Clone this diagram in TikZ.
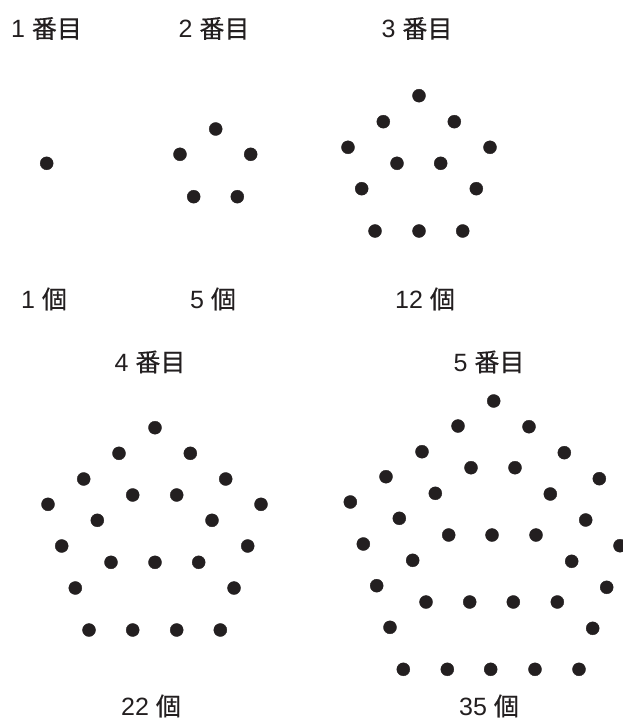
\documentclass[tikz,border=0pt]{standalone}
\usepackage{fontspec}
\setmainfont{Liberation Sans}
\newfontfamily\jpfont[FakeBold=0.4]{Noto Sans CJK JP}
\definecolor{ink}{RGB}{35,31,32}
\newcommand{\jp}[1]{{\jpfont #1}}

\begin{document}
\begin{tikzpicture}[x=1pt, y=-1pt]
\tikzset{
  dot/.style={fill=ink, draw=ink},
  lbl/.style={text=ink, inner sep=0pt, font=\fontsize{25}{25}\selectfont}
}
\useasboundingbox (0,0) rectangle (623,722);

% Titles
\node[lbl] (t1) at (46.5,28.5) {1 \jp{番目}};
\node[lbl] (t2) at (214,28.5) {2 \jp{番目}};
\node[lbl] (t3) at (417,28.5) {3 \jp{番目}};
\node[lbl] (t4) at (150,362) {4 \jp{番目}};
\node[lbl] (t5) at (489,362) {5 \jp{番目}};

% Counts
\node[lbl] (c1) at (44,299) {1 \jp{個}};
\node[lbl] (c2) at (213,299) {5 \jp{個}};
\node[lbl] (c3) at (425,299) {12 \jp{個}};
\node[lbl] (c4) at (151,706) {22 \jp{個}};
\node[lbl] (c5) at (489,706) {35 \jp{個}};

% Figure 1
\filldraw[dot] (46.7,163.3) circle[radius=6.5pt];

% Figure 2
\foreach \x/\y in {215.7/129, 180/154.3, 250.7/154.3, 193.7/196.7, 237.3/196.7}
  \filldraw[dot] (\x,\y) circle[radius=6.5pt];

% Figure 3
\foreach \x/\y in {419/95.7, 383.3/121.7, 454.3/121.7, 348/147.3, 490/147.3,
    397/163.3, 440.7/163.3, 361.7/188.7, 476.3/188.7,
    375/231, 419/231, 462.7/231}
  \filldraw[dot] (\x,\y) circle[radius=6.5pt];

% Figure 4
\foreach \x/\y in {155/427.7, 119/453.3, 190.3/453.3, 83.7/479, 225.7/479,
    48/504.3, 261/504.3, 132.7/495, 176.7/495, 97.3/520.3, 212/520.3,
    61.7/546, 247.7/546, 111/562.3, 155/562.3, 198.7/562.3,
    75.3/588, 234/588, 89/630, 132.7/630, 176.7/630, 220.3/630}
  \filldraw[dot] (\x,\y) circle[radius=6.5pt];

% Figure 5
\foreach \x/\y in {493.7/401, 458/426, 529/426.7, 422/451.7, 564.3/452.7,
    386/476.7, 599.3/478.7, 350.3/502, 620/545.7,
    471/467.7, 515/467.7, 435.3/493.3, 550.3/494, 399.3/518.3, 585.7/520,
    448.7/535, 492/535, 536/535, 363.3/544, 412.7/560.3, 571.7/561.3,
    376.7/585.7, 606.7/587.3, 426/602, 469.7/602, 513.3/602, 557.3/602,
    390/627.3, 592.7/628.3,
    403.3/669.3, 447.3/669.3, 490.7/669.3, 535/669.3, 579/669.3}
  \filldraw[dot] (\x,\y) circle[radius=6.5pt];
\end{tikzpicture}
\end{document}
